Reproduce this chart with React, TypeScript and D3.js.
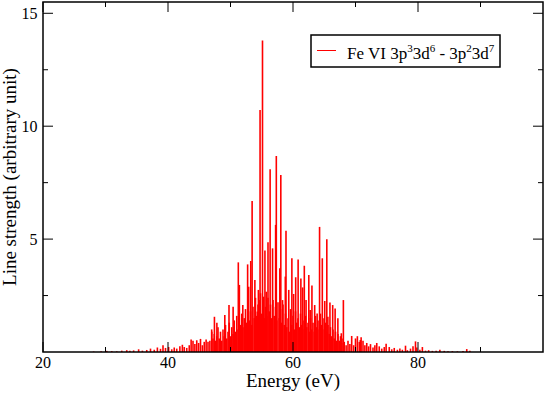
import React, { useEffect, useRef } from "react";
import * as d3 from "d3";

// [energy (eV), line strength]
const lowTail: [number, number][] = [
  [28.1, 0.02], [29.3, 0.03], [30.2, 0.05], [31.0, 0.04], [31.8, 0.03], [32.6, 0.06],
  [33.4, 0.08], [33.9, 0.05], [34.5, 0.07], [35.3, 0.12], [35.9, 0.06], [36.6, 0.09],
  [37.2, 0.15], [37.8, 0.1], [38.3, 0.2], [38.8, 0.14], [39.2, 0.3], [39.6, 0.18],
  [40.1, 0.22], [40.6, 0.12], [41.0, 0.2], [41.4, 0.15], [41.9, 0.26], [42.3, 0.32],
  [42.6, 0.22], [43.0, 0.18], [43.4, 0.3], [43.7, 0.55], [44.0, 0.5], [44.3, 0.35],
  [44.6, 0.52], [44.9, 0.4], [45.2, 0.58], [45.5, 0.3], [45.8, 0.45], [46.1, 0.55],
  [46.4, 0.45], [46.7, 0.5],
];

const coreLines: [number, number][] = [
  [47.0, 0.9], [47.2, 0.6], [47.4, 0.8], [47.6, 0.5], [47.8, 0.7], [48.0, 1.1], [48.2, 0.6],
  [48.4, 0.9], [48.6, 0.5], [48.8, 1.0], [49.0, 0.7], [49.2, 1.2], [49.4, 0.6], [49.6, 0.9],
  [49.8, 1.3], [50.0, 0.7], [50.2, 1.1], [50.4, 0.8], [50.6, 1.4], [50.8, 0.9], [51.0, 1.6],
  [51.2, 1.0], [51.4, 1.5], [51.6, 1.2], [51.8, 1.7], [52.0, 1.1], [52.2, 1.5], [52.4, 1.9],
  [52.6, 1.3], [52.8, 2.2], [53.0, 1.4], [53.2, 1.8], [53.4, 1.2], [53.6, 2.0], [53.8, 1.5],
  [54.0, 2.4], [54.2, 1.6], [54.4, 2.1], [54.6, 1.4], [54.8, 2.6], [55.0, 1.7], [55.2, 2.2],
  [55.4, 1.5], [55.6, 2.0], [55.8, 1.6], [56.0, 2.4], [56.2, 1.8], [56.4, 2.1], [56.6, 1.5],
  [56.8, 2.3], [57.0, 1.6], [57.2, 2.0], [57.4, 1.4], [57.6, 2.2], [57.8, 1.5], [58.0, 1.9],
  [58.2, 1.3], [58.4, 2.1], [58.6, 1.2], [58.8, 1.7], [59.0, 1.1], [59.2, 1.5], [59.4, 0.9],
  [59.6, 1.9], [59.8, 1.2], [60.0, 1.6], [60.2, 1.0], [60.4, 1.8], [60.6, 1.3], [60.8, 1.5],
  [61.0, 1.1], [61.2, 1.7], [61.4, 1.2], [61.6, 1.4], [61.8, 1.0], [62.0, 1.6], [62.2, 1.1],
  [62.4, 1.3], [62.6, 0.9], [62.8, 1.5], [63.0, 1.0], [63.2, 1.3], [63.4, 0.9], [63.6, 1.6],
  [63.8, 1.1], [64.0, 1.4], [64.2, 1.0], [64.4, 1.7], [64.6, 1.2], [64.8, 1.5], [65.0, 1.0],
  [65.2, 1.3], [65.4, 0.9], [65.6, 1.2], [65.8, 0.8], [66.0, 1.1], [66.2, 0.7], [66.4, 1.0],
  [66.6, 0.6], [66.8, 0.9], [67.0, 0.5], [67.2, 0.8], [67.4, 0.5], [67.6, 0.7], [67.8, 0.4],
  [68.0, 0.6],
];

const peakLines: [number, number][] = [
  [55.12, 13.79], [54.73, 10.72], [53.46, 6.69], [56.34, 8.09], [57.33, 8.68], [58.05, 7.84],
  [57.22, 5.63], [58.88, 5.37], [64.25, 5.54], [65.41, 4.99], [64.69, 4.15], [51.25, 3.97],
  [53.24, 4.03], [52.74, 3.88], [59.82, 4.15], [60.82, 4.1], [61.81, 3.82], [55.51, 4.49],
  [56.0, 4.86], [56.73, 4.59], [57.89, 3.71], [58.77, 3.34], [60.43, 3.31], [61.26, 3.26],
  [62.53, 3.41], [63.03, 2.94], [63.47, 2.08], [65.08, 2.26], [65.91, 2.19], [66.35, 2.08],
  [66.74, 1.93], [68.06, 2.3], [51.42, 2.97], [52.91, 2.89], [51.97, 2.08], [49.76, 2.08],
  [50.42, 2.0], [49.09, 1.64], [47.43, 1.56], [47.82, 1.3], [46.99, 1.0], [54.29, 1.79],
  [54.62, 2.3], [53.9, 3.19], [54.46, 2.75], [55.29, 2.45], [55.73, 2.67], [58.33, 2.3],
  [59.32, 2.75], [60.1, 2.57], [61.54, 2.86], [62.09, 2.3], [62.75, 1.86], [63.86, 1.71],
  [65.58, 1.56], [67.18, 1.49], [67.73, 0.83], [69.39, 0.71], [70.77, 0.53],
];

const highTail: [number, number][] = [
  [68.2, 0.45], [68.5, 0.3], [68.8, 0.5], [69.1, 0.35], [69.7, 0.3], [70.0, 0.6],
  [70.3, 0.7], [70.6, 0.45], [70.9, 0.65], [71.2, 0.5], [71.5, 0.3], [71.8, 0.4],
  [72.1, 0.25], [72.4, 0.35], [72.8, 0.2], [73.1, 0.3], [73.4, 0.4], [73.8, 0.25],
  [74.2, 0.15], [74.6, 0.22], [74.9, 0.37], [75.4, 0.22], [75.8, 0.12], [76.2, 0.18],
  [76.7, 0.1], [77.1, 0.16], [77.5, 0.1], [78.0, 0.28], [78.3, 0.08], [78.8, 0.15],
  [79.2, 0.25], [79.6, 0.47], [79.8, 0.2], [80.3, 0.1], [80.7, 0.22], [81.2, 0.06],
  [81.7, 0.08], [82.3, 0.05], [82.9, 0.06], [83.5, 0.1], [84.2, 0.05], [84.8, 0.03],
  [85.5, 0.04], [86.3, 0.03], [87.2, 0.04], [87.8, 0.13], [88.3, 0.05],
];

const xMajor = [20, 40, 60, 80];
const xMinor = [30, 50, 70, 90];
const yMajor = [5, 10, 15];
const yMinor = [2.5, 7.5, 12.5];

const W = 545;
const H = 393;
const FONT = '"Liberation Serif", "Times New Roman", Times, serif';

export default function App() {
  const svgRef = useRef<SVGSVGElement>(null);

  useEffect(() => {
    const left = 43, right = 543, top = 2, bottom = 352;
    const svg = d3.select(svgRef.current);
    svg.selectAll("*").remove();

    const x = d3.scaleLinear().domain([20, 100]).range([left, right]);
    const y = d3.scaleLinear().domain([0, 15.5]).range([bottom, top]);

    const all = [...lowTail, ...coreLines, ...peakLines, ...highTail];

    svg
      .append("g")
      .selectAll("line")
      .data(all)
      .join("line")
      .attr("x1", (d) => x(d[0]))
      .attr("x2", (d) => x(d[0]))
      .attr("y1", y(0))
      .attr("y2", (d) => y(d[1]))
      .attr("stroke", "#ff0000")
      .attr("stroke-width", 1.6);

    // frame
    svg
      .append("rect")
      .attr("x", left)
      .attr("y", top)
      .attr("width", right - left)
      .attr("height", bottom - top)
      .attr("fill", "none")
      .attr("stroke", "#000")
      .attr("stroke-width", 1.5);

    const ticks = svg.append("g").attr("stroke", "#000").attr("stroke-width", 1);
    const xt = [...xMajor.map((v) => [v, 10]), ...xMinor.map((v) => [v, 5])];
    const yt = [...yMajor.map((v) => [v, 10]), ...yMinor.map((v) => [v, 5])];
    xt.forEach(([v, len]) => {
      ticks.append("line").attr("x1", x(v)).attr("x2", x(v)).attr("y1", bottom).attr("y2", bottom - len);
      ticks.append("line").attr("x1", x(v)).attr("x2", x(v)).attr("y1", top).attr("y2", top + len);
    });
    yt.forEach(([v, len]) => {
      ticks.append("line").attr("x1", left).attr("x2", left + len).attr("y1", y(v)).attr("y2", y(v));
      ticks.append("line").attr("x1", right).attr("x2", right - len).attr("y1", y(v)).attr("y2", y(v));
    });

    const labels = svg.append("g").style("font-family", FONT).attr("fill", "#000");
    xMajor.forEach((v) => {
      labels
        .append("text")
        .attr("x", x(v))
        .attr("y", 368)
        .attr("text-anchor", "middle")
        .attr("font-size", 16)
        .text(v);
    });
    yMajor.forEach((v) => {
      labels
        .append("text")
        .attr("x", 37.5)
        .attr("y", y(v) + 5.5)
        .attr("text-anchor", "end")
        .attr("font-size", 16)
        .text(v);
    });

    labels
      .append("text")
      .attr("x", (left + right) / 2)
      .attr("y", 387)
      .attr("text-anchor", "middle")
      .attr("font-size", 19)
      .text("Energy (eV)");

    labels
      .append("text")
      .attr("transform", `translate(16,${(top + bottom) / 2}) rotate(-90)`)
      .attr("text-anchor", "middle")
      .attr("font-size", 19)
      .text("Line strength (arbitrary unit)");

    // legend
    const lg = svg.append("g");
    lg.append("rect")
      .attr("x", 311)
      .attr("y", 35)
      .attr("width", 189)
      .attr("height", 32)
      .attr("fill", "#fff")
      .attr("stroke", "#000")
      .attr("stroke-width", 1.5);
    lg.append("line")
      .attr("x1", 317)
      .attr("x2", 336)
      .attr("y1", 50.5)
      .attr("y2", 50.5)
      .attr("stroke", "#ff0000")
      .attr("stroke-width", 1);
    const t = lg
      .append("text")
      .attr("x", 347)
      .attr("y", 59)
      .style("font-family", FONT)
      .attr("font-size", 17)
      .attr("fill", "#000");
    const parts: [string, boolean][] = [
      ["Fe VI 3p", false], ["3", true], ["3d", false], ["6", true],
      [" - 3p", false], ["2", true], ["3d", false], ["7", true],
    ];
    let raised = false;
    parts.forEach(([s, sup]) => {
      const dy = sup ? -7 : raised ? 7 : 0;
      raised = sup;
      t.append("tspan")
        .attr("dy", dy)
        .attr("font-size", sup ? 11 : 17)
        .style("white-space", "pre")
        .text(s);
    });
  }, []);

  return (
    <svg
      ref={svgRef}
      width={W}
      height={H}
      style={{ position: "absolute", left: 0, top: 0, background: "#fff" }}
    />
  );
}
